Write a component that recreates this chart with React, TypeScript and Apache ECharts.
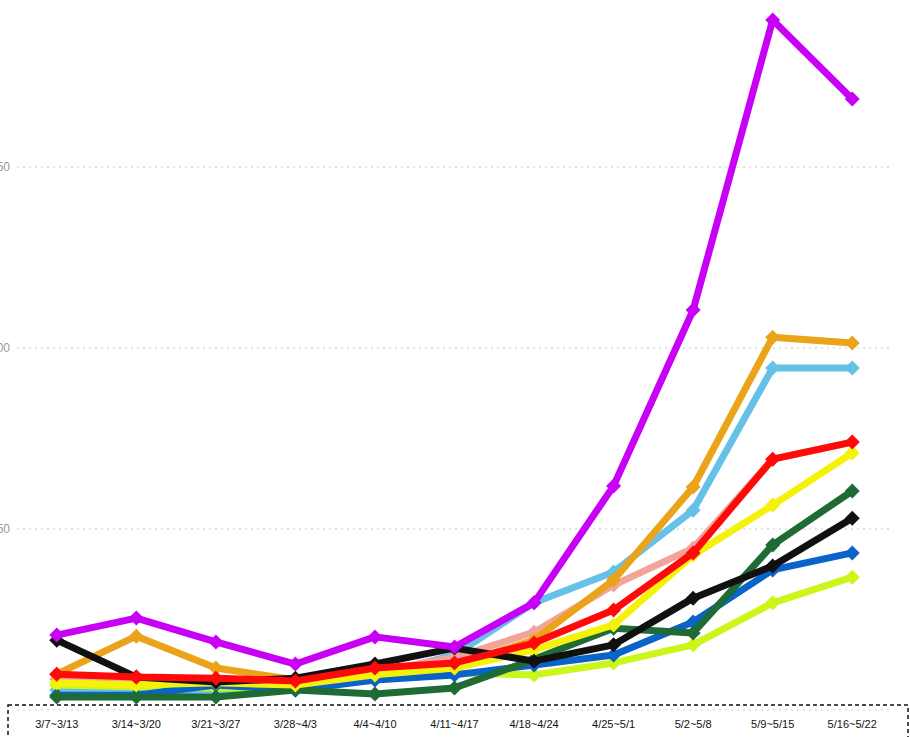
import React, { useEffect, useRef } from "react";
import * as echarts from "echarts";

const categories = [
  "3/7~3/13", "3/14~3/20", "3/21~3/27", "3/28~4/3", "4/4~4/10", "4/11~4/17",
  "4/18~4/24", "4/25~5/1", "5/2~5/8", "5/9~5/15", "5/16~5/22",
];

const lightBlue = [5.5, 5.0, 5.5, 5.5, 9.5, 15.2, 29.6, 38.1, 55.2, 94.5, 94.5];
const salmon = [8.5, 8.0, 8.0, 7.5, 10.5, 14.5, 21.5, 34.5, 44.7, 69.3, 74.0];
const orange = [9.9, 20.4, 11.6, 8.3, 11.0, 12.4, 19.3, 35.9, 61.6, 103.0, 101.4];
const lime = [6.9, 6.4, 6.1, 6.1, 8.3, 10.2, 9.7, 13.0, 18.0, 29.6, 36.7];
const blue = [4.1, 4.1, 6.9, 5.5, 8.3, 9.7, 12.4, 15.2, 24.3, 38.7, 43.4];
const green = [3.6, 3.6, 3.6, 5.5, 4.4, 6.1, 14.0, 22.6, 21.3, 45.6, 60.5];
const yellow = [7.5, 6.9, 7.5, 6.9, 9.7, 11.6, 16.6, 23.5, 42.8, 56.6, 71.0];
const black = [19.3, 9.1, 7.7, 8.8, 12.7, 17.1, 13.5, 18.0, 30.9, 39.8, 53.0];
const red = [9.9, 9.1, 8.8, 8.0, 11.6, 13.0, 18.5, 27.6, 43.4, 69.3, 74.0];
const magenta = [20.7, 25.4, 18.8, 12.7, 20.2, 17.4, 29.6, 61.9, 110.5, 190.6, 168.8];

const yTicks = { min: 0, max: 200, interval: 50 };

const seriesDefs: { name: string; data: number[]; color: string }[] = [
  { name: "lightBlue", data: lightBlue, color: "#66C1E8" },
  { name: "salmon", data: salmon, color: "#F2A39A" },
  { name: "orange", data: orange, color: "#EBA31A" },
  { name: "lime", data: lime, color: "#CCF51A" },
  { name: "blue", data: blue, color: "#0A64C8" },
  { name: "green", data: green, color: "#1E6B35" },
  { name: "yellow", data: yellow, color: "#F5F20A" },
  { name: "black", data: black, color: "#111111" },
  { name: "red", data: red, color: "#FF0A0A" },
  { name: "magenta", data: magenta, color: "#C800F5" },
];

export default function App() {
  const ref = useRef<HTMLDivElement>(null);
  useEffect(() => {
    if (!ref.current) return;
    const chart = echarts.init(ref.current, null, { renderer: "svg" });
    chart.setOption({
      animation: false,
      backgroundColor: "#ffffff",
      grid: {
        left: 17,
        right: 18,
        top: -14,
        bottom: 27,
        containLabel: false,
        outerBoundsMode: "none",
      },
      xAxis: {
        type: "category",
        data: categories,
        boundaryGap: true,
        axisLine: { show: false },
        axisTick: { show: false },
        axisLabel: {
          color: "#111",
          fontSize: 11,
          fontFamily: "Liberation Sans, Arial, sans-serif",
          margin: 8,
          interval: 0,
        },
        splitLine: { show: false },
      },
      yAxis: {
        type: "value",
        min: yTicks.min,
        max: yTicks.max,
        interval: yTicks.interval,
        axisLine: { show: false },
        axisTick: { show: false },
        axisLabel: {
          color: "#999",
          fontSize: 12,
          fontFamily: "Liberation Sans, Arial, sans-serif",
          margin: 7,
          showMinLabel: false,
        },
        splitLine: {
          show: true,
          lineStyle: { color: "#d9d9d9", type: [2, 4], width: 1.5 },
        },
      },
      graphic: [
        {
          type: "rect",
          shape: { x: 8, y: 705, width: 900, height: 60 },
          style: { fill: "none", stroke: "#111", lineWidth: 1.5, lineDash: [4, 3] },
          z: 100,
          silent: true,
        },
      ],
      series: seriesDefs.map((s, i) => ({
        name: s.name,
        type: "line",
        data: s.data,
        symbol: "diamond",
        symbolSize: 15,
        z: 2 + i,
        lineStyle: { color: s.color, width: 7, cap: "round", join: "round" },
        itemStyle: { color: s.color },
        emphasis: { disabled: true },
      })),
    });
    return () => chart.dispose();
  }, []);
  return (
    <div
      ref={ref}
      style={{ position: "absolute", left: 0, top: 0, width: 910, height: 737 }}
    />
  );
}
